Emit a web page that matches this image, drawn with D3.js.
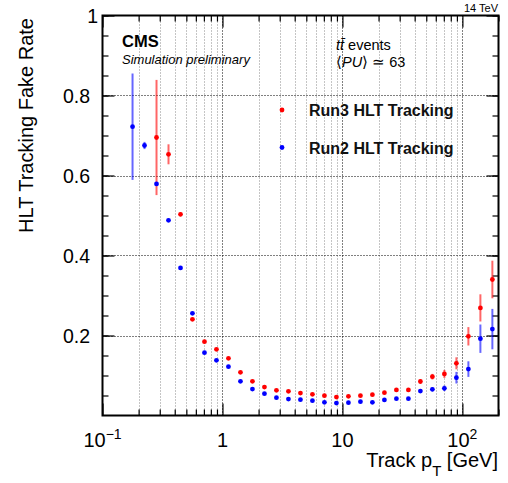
<!DOCTYPE html>
<html>
<head>
<meta charset="utf-8">
<script src="https://cdn.jsdelivr.net/npm/d3@7"></script>
<style>
  html, body { margin: 0; padding: 0; background: #fff; }
  svg { display: block; font-family: "Liberation Sans", Arial, Helvetica, sans-serif; }
</style>
</head>
<body>
<svg id="chart" width="508" height="483"></svg>
<script>
// ---------- data ----------
const pTCenters = [0.178, 0.224, 0.282, 0.355, 0.447, 0.562, 0.708, 0.891,
  1.122, 1.413, 1.778, 2.239, 2.818, 3.548, 4.467, 5.623, 7.079, 8.913,
  11.22, 14.13, 17.78, 22.39, 28.18, 35.48, 44.67, 56.23, 70.79, 89.13,
  112.2, 141.3, 177.8];

const run3Rate = [null, null, 0.695, 0.653, 0.503, 0.2405, 0.1845, 0.1655,
  0.143, 0.108, 0.0855, 0.071, 0.063, 0.0605, 0.056, 0.053, 0.0495, 0.046,
  0.048, 0.0495, 0.052, 0.057, 0.064, 0.064, 0.085, 0.097, 0.104, 0.1305,
  0.198, 0.269, 0.340];
const run3Err = [null, null, 0.144, 0.025, 0.005, 0.003, 0.002, 0.002,
  0.002, 0.002, 0.002, 0.002, 0.002, 0.002, 0.002, 0.002, 0.002, 0.002,
  0.002, 0.002, 0.002, 0.003, 0.003, 0.004, 0.005, 0.007, 0.010, 0.015,
  0.023, 0.034, 0.047];

const run2Rate = [0.722, 0.675, 0.579, 0.488, 0.369, 0.2555, 0.157, 0.138,
  0.122, 0.0855, 0.066, 0.0545, 0.0445, 0.041, 0.0395, 0.037, 0.033, 0.031,
  0.032, 0.0345, 0.033, 0.039, 0.042, 0.042, 0.061, 0.0655, 0.068, 0.0945,
  0.116, 0.192, 0.216];
const run2Err = [0.133, 0.009, 0.005, 0.004, 0.003, 0.003, 0.002, 0.002,
  0.002, 0.002, 0.002, 0.002, 0.002, 0.002, 0.002, 0.002, 0.002, 0.002,
  0.002, 0.002, 0.002, 0.002, 0.003, 0.003, 0.004, 0.005, 0.007, 0.0145,
  0.0195, 0.0355, 0.0505];

const seriesNames = ["Run3 HLT Tracking", "Run2 HLT Tracking"];
const seriesColors = ["#ff0000", "#0000ff"];

const xMajorTicks = [0.1, 1, 10, 100];
const xTickLabels = ["10^\u22121", "1", "10", "10^2"];
const yMajorTicks = [0.2, 0.4, 0.6, 0.8, 1];
const yTickLabels = ["0.2", "0.4", "0.6", "0.8", "1"];

// ---------- layout ----------
const svg = d3.select("#chart");
const L = 102.5, R = 498.5, T = 15.5, B = 415.5;
const x = d3.scaleLog().domain([0.1, 200]).range([L, R]);
const y = d3.scaleLinear().domain([0, 1]).range([B, T]);

const allXTicks = x.ticks(); // 0.1,0.2,...,200
const isMajor = v => xMajorTicks.some(m => Math.abs(m - v) / m < 1e-6);
const yMinorTicks = d3.range(0.05, 1.0001, 0.05);

// ---------- grid ----------
const grid = svg.append("g");
allXTicks.filter(v => v > 0.1 && v < 200).forEach(v => {
  grid.append("line")
    .attr("x1", Math.round(x(v)) + 0.5).attr("x2", Math.round(x(v)) + 0.5)
    .attr("y1", T).attr("y2", B)
    .attr("stroke", isMajor(v) ? "#000" : "#8a8a8a")
    .attr("stroke-width", 1)
    .attr("stroke-dasharray", "1,2");
});
yMajorTicks.filter(v => v < 1).forEach(v => {
  grid.append("line")
    .attr("x1", L).attr("x2", R)
    .attr("y1", Math.round(y(v)) + 0.5).attr("y2", Math.round(y(v)) + 0.5)
    .attr("stroke", "#000").attr("stroke-width", 1)
    .attr("stroke-dasharray", "1,2");
});

// ---------- axes ticks (inward) ----------
function axisG(axis, tx, ty) {
  const g = svg.append("g").attr("transform", `translate(${tx},${ty})`).call(axis);
  g.select(".domain").remove();
  g.selectAll("text").remove();
  g.selectAll("line").attr("stroke", "#000").attr("stroke-width", 1.2);
  return g;
}
const xMinor = allXTicks.filter(v => !isMajor(v));
axisG(d3.axisBottom(x).tickValues(xMajorTicks).tickSizeInner(-12).tickSizeOuter(0), 0, B);
axisG(d3.axisBottom(x).tickValues(xMinor).tickSizeInner(-6).tickSizeOuter(0), 0, B);
axisG(d3.axisTop(x).tickValues(xMajorTicks).tickSizeInner(-12).tickSizeOuter(0), 0, T);
axisG(d3.axisTop(x).tickValues(xMinor).tickSizeInner(-6).tickSizeOuter(0), 0, T);
axisG(d3.axisLeft(y).tickValues(yMajorTicks).tickSizeInner(-12).tickSizeOuter(0), L, 0);
axisG(d3.axisLeft(y).tickValues(yMinorTicks).tickSizeInner(-6).tickSizeOuter(0), L, 0);
axisG(d3.axisRight(y).tickValues(yMajorTicks).tickSizeInner(-12).tickSizeOuter(0), R, 0);
axisG(d3.axisRight(y).tickValues(yMinorTicks).tickSizeInner(-6).tickSizeOuter(0), R, 0);

// frame
svg.append("rect")
  .attr("x", L).attr("y", T).attr("width", R - L).attr("height", B - T)
  .attr("fill", "none").attr("stroke", "#000").attr("stroke-width", 2);

// ---------- tick labels ----------
xMajorTicks.forEach((v, i) => {
  const parts = xTickLabels[i].split("^");
  const t = svg.append("text")
    .attr("x", x(v)).attr("y", 446.5)
    .attr("text-anchor", "middle")
    .attr("font-size", 20).attr("fill", "#000");
  t.append("tspan").text(parts[0]);
  if (parts[1]) {
    t.append("tspan").attr("font-size", 14).attr("dy", -8).text(parts[1]);
  }
});
yMajorTicks.forEach((v, i) => {
  svg.append("text")
    .attr("x", v === 1 ? 98 : 90).attr("y", y(v)).attr("dy", "0.36em")
    .attr("text-anchor", "end")
    .attr("font-size", 19.5).attr("fill", "#000")
    .text(yTickLabels[i]);
});

// ---------- axis titles ----------
const xt = svg.append("text")
  .attr("x", 498).attr("y", 467)
  .attr("text-anchor", "end").attr("font-size", 20).attr("fill", "#000");
xt.append("tspan").text("Track p");
xt.append("tspan").attr("font-size", 15).attr("dy", 9).text("T");
xt.append("tspan").attr("dy", -9).text(" [GeV]");

svg.append("text")
  .attr("transform", "translate(33,18) rotate(-90)")
  .attr("text-anchor", "end").attr("font-size", 20).attr("fill", "#000")
  .text("HLT Tracking Fake Rate");

// ---------- data points ----------
function drawSeries(rates, errs, color) {
  const g = svg.append("g");
  const pts = pTCenters.map((p, i) => ({ p, v: rates[i], e: errs[i] }))
    .filter(d => d.v !== null);
  g.selectAll("line.err").data(pts).enter().append("line")
    .attr("x1", d => x(d.p)).attr("x2", d => x(d.p))
    .attr("y1", d => y(d.v - d.e)).attr("y2", d => y(d.v + d.e))
    .attr("stroke", color).attr("stroke-width", 2).attr("stroke-opacity", 0.6);
  g.selectAll("circle").data(pts).enter().append("circle")
    .attr("cx", d => x(d.p)).attr("cy", d => y(d.v)).attr("r", 2.4)
    .attr("fill", color);
}
drawSeries(run3Rate, run3Err, seriesColors[0]);
drawSeries(run2Rate, run2Err, seriesColors[1]);

// ---------- legend ----------
const legY = [110, 147.5];
seriesNames.forEach((name, i) => {
  svg.append("circle").attr("cx", 282).attr("cy", legY[i]).attr("r", 2.4)
    .attr("fill", seriesColors[i]);
  svg.append("text").attr("x", 309).attr("y", legY[i] + 6)
    .attr("font-size", 16).attr("font-weight", "bold").attr("fill", "#111")
    .text(name);
});

// ---------- annotations ----------
svg.append("text").attr("x", 498).attr("y", 12)
  .attr("text-anchor", "end").attr("font-size", 11).text("14 TeV");
svg.append("text").attr("x", 122).attr("y", 47)
  .attr("font-size", 16.5).attr("font-weight", "bold").text("CMS");
svg.append("text").attr("x", 122).attr("y", 64)
  .attr("font-size", 13).attr("font-style", "italic").text("Simulation preliminary");

const tt = svg.append("text").attr("x", 336).attr("y", 50).attr("font-size", 14.5);
tt.append("tspan").attr("font-style", "italic").text("tt\u0304");
tt.append("tspan").text(" events");
const pu = svg.append("text").attr("x", 336).attr("y", 67).attr("font-size", 14.5);
pu.append("tspan").text("\u27e8");
pu.append("tspan").attr("font-style", "italic").text("PU");
pu.append("tspan").text("\u27e9 \u2243 63");
</script>
</body>
</html>
